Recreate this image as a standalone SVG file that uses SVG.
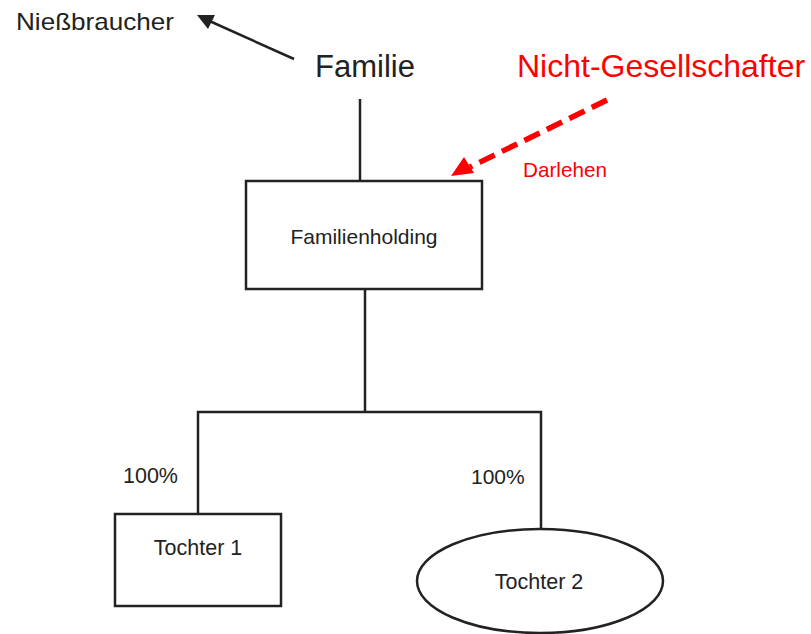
<svg xmlns="http://www.w3.org/2000/svg" width="811" height="634" viewBox="0 0 811 634">
<defs>
<style>
text{font-family:"Liberation Sans",Arial,sans-serif;fill:#222}
.red{fill:#ff0000}
.box{fill:#fff;stroke:#222;stroke-width:2.5}
.ln{fill:none;stroke:#222;stroke-width:2.5}
</style>
</defs>
<rect width="811" height="634" fill="#fff"/>
<g id="connectors">
<line class="ln" x1="294" y1="59" x2="205" y2="19"/>
<path d="M197,15 L215,15 L208,29 z" fill="#222"/>
<line class="ln" x1="360" y1="99" x2="360" y2="181"/>
<polyline class="ln" points="365,289 365,412"/>
<polyline class="ln" points="198,514 198,412 541,412 541,529"/>
<line x1="607" y1="100" x2="470" y2="167" stroke="#ff0000" stroke-width="5.5" stroke-dasharray="17 8"/>
<path d="M451,176 L464,157 L474,173 z" fill="#ff0000"/>
</g>
<g id="niessbraucher"><text x="16" y="30" font-size="24" textLength="158" lengthAdjust="spacingAndGlyphs">Nießbraucher</text></g>
<g id="familie"><text x="315" y="77" font-size="31">Familie</text></g>
<g id="nicht-gesellschafter"><text class="red" x="517" y="77" font-size="32">Nicht-Gesellschafter</text></g>
<g id="darlehen-label"><text class="red" x="523" y="177" font-size="20.7">Darlehen</text></g>
<g id="familienholding">
<rect class="box" x="246" y="181" width="236" height="108"/>
<text x="364" y="244" font-size="21" text-anchor="middle">Familienholding</text>
</g>
<g id="label-100-1"><text x="123" y="483" font-size="21.5">100%</text></g>
<g id="label-100-2"><text x="471" y="484" font-size="21">100%</text></g>
<g id="tochter1">
<rect class="box" x="115" y="514" width="166" height="92"/>
<text x="198" y="555" font-size="21.5" text-anchor="middle">Tochter 1</text>
</g>
<g id="tochter2">
<ellipse class="box" cx="540" cy="581" rx="123" ry="52"/>
<text x="539" y="589" font-size="21.5" text-anchor="middle">Tochter 2</text>
</g>
</svg>
